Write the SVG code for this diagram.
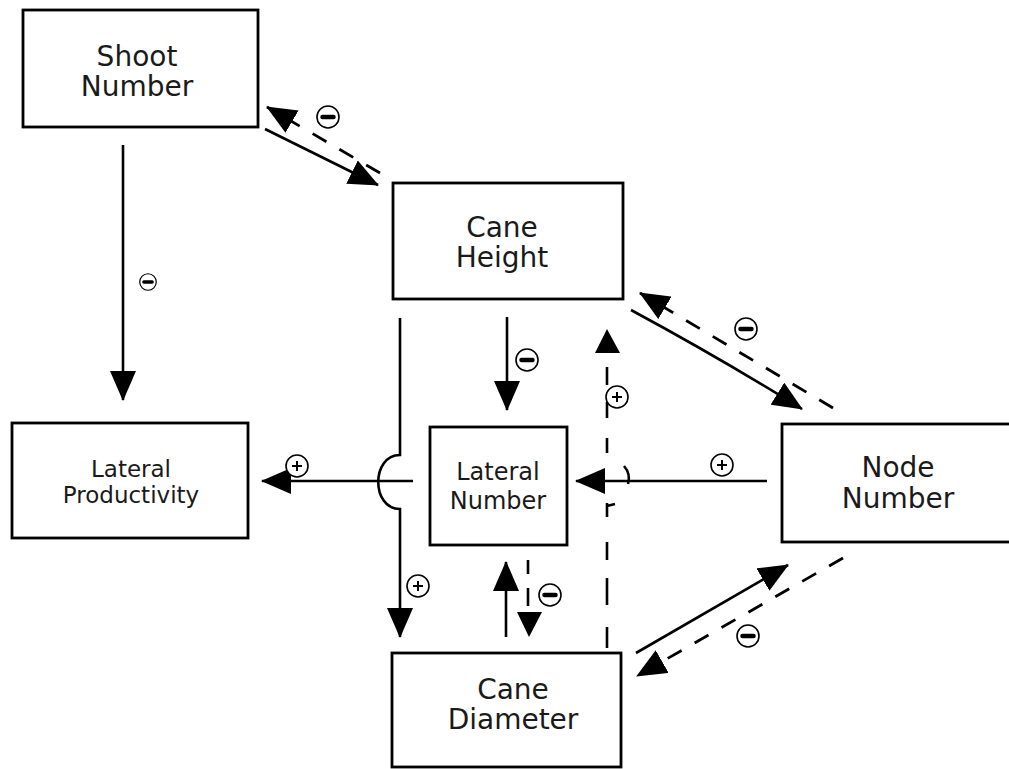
<svg xmlns="http://www.w3.org/2000/svg" width="1009" height="769" viewBox="0 0 1009 769">
<style>
.box{fill:#fff;stroke:#000;stroke-width:2.8}
.lbl{font-family:"DejaVu Sans","Liberation Sans",sans-serif;font-size:28px;fill:#1a1a1a;text-anchor:middle}
.lbm{font-family:"DejaVu Sans","Liberation Sans",sans-serif;font-size:24px;fill:#1a1a1a;text-anchor:middle}
.lbs{font-family:"DejaVu Sans","Liberation Sans",sans-serif;font-size:23px;fill:#1a1a1a;text-anchor:middle}
.ln{fill:none;stroke:#000;stroke-width:2.6}
.dash{fill:none;stroke:#000;stroke-width:2.8;stroke-dasharray:16 15}
.sg circle{fill:#fff;stroke:#000;stroke-width:1.6}
</style>
<defs>
<marker id="ah" markerUnits="userSpaceOnUse" markerWidth="30" markerHeight="26" viewBox="0 0 30 26" refX="29" refY="13" orient="auto">
<path d="M0,0 L30,13 L0,26 z" fill="#000"/>
</marker>
<g id="minus" class="sg"><circle r="11"/><line x1="-5.5" y1="0" x2="5.5" y2="0" stroke="#000" stroke-width="4.5" stroke-linecap="round"/></g>
<g id="plus" class="sg"><circle r="11"/><path d="M-5,0 H5 M0,-5 V5" stroke="#000" stroke-width="2"/></g>
</defs>
<rect width="1009" height="769" fill="#fff"/>

<g id="connectors">
<!-- Shoot Number -> Lateral Productivity -->
<path class="ln" d="M123,145 V400" marker-end="url(#ah)"/>
<use href="#minus" transform="translate(148 282) scale(0.75)"/>
<!-- Shoot Number -> Cane Height -->
<path class="ln" d="M265,129 L378,185" marker-end="url(#ah)"/>
<!-- Cane Height -> Shoot Number (dashed) -->
<path class="dash" d="M380,173 L267,107" marker-end="url(#ah)"/>
<use href="#minus" x="328" y="117"/>
<!-- Cane Height -> Lateral Number -->
<path class="ln" d="M507,317 V410" marker-end="url(#ah)"/>
<use href="#minus" x="527" y="360"/>
<!-- Cane Height -> Cane Diameter with hop -->
<path class="ln" d="M400,318 V455 C371,455 371,509 400,509 V637" marker-end="url(#ah)"/>
<use href="#plus" x="418" y="586"/>
<!-- Lateral Number -> Lateral Productivity -->
<path class="ln" d="M413,481 H262" marker-end="url(#ah)"/>
<use href="#plus" x="297" y="466"/>
<!-- Node Number -> Lateral Number -->
<path class="ln" d="M767,481 H576" marker-end="url(#ah)"/>
<path class="ln" d="M624,466 Q631,474 628,484" stroke-width="2"/>
<use href="#plus" x="722" y="465"/>
<!-- Cane Diameter -> Cane Height (dashed) -->
<path class="ln" stroke-width="3" d="M607,367 V385 M607,402 V418 M607,438 V453 M607,503 V517 M607,506 L615,504 M607,542 V560 M607,578 V605 M607,627 V648"/>
<path d="M595,353 L607,329 L620,353 z" fill="#000"/>
<use href="#plus" x="617" y="397"/>
<!-- Cane Diameter -> Lateral Number -->
<path class="ln" d="M506,637 V562" marker-end="url(#ah)"/>
<!-- Lateral Number -> Cane Diameter (dashed) -->
<path class="ln" stroke-width="3" d="M528,560 V574 M528,588 V606"/>
<path d="M517,612 L542,612 L529,637 z" fill="#000"/>
<use href="#minus" x="550" y="595"/>
<!-- Cane Height -> Node Number -->
<path class="ln" d="M631,310 Q720,358 802,409" marker-end="url(#ah)"/>
<!-- Node Number -> Cane Height (dashed) -->
<path class="dash" d="M833,408 L640,293" marker-end="url(#ah)"/>
<use href="#minus" x="746" y="329"/>
<!-- Cane Diameter -> Node Number -->
<path class="ln" d="M636,653 L788,565" marker-end="url(#ah)"/>
<!-- Node Number -> Cane Diameter (dashed) -->
<path class="dash" d="M843,558 L637,676" marker-end="url(#ah)"/>
<use href="#minus" x="748" y="636"/>
</g>

<g id="shoot-number">
<rect class="box" x="23" y="10" width="235" height="117"/>
<text class="lbl" x="137" y="66">Shoot</text>
<text class="lbl" x="137" y="96">Number</text>
</g>
<g id="cane-height">
<rect class="box" x="393" y="183" width="230" height="116"/>
<text class="lbl" x="502" y="237">Cane</text>
<text class="lbl" x="502" y="267">Height</text>
</g>
<g id="lateral-productivity">
<rect class="box" x="12" y="423" width="236" height="115"/>
<text class="lbs" x="131" y="477">Lateral</text>
<text class="lbs" x="131" y="503">Productivity</text>
</g>
<g id="lateral-number">
<rect class="box" x="430" y="427" width="137" height="118"/>
<text class="lbm" x="498" y="480">Lateral</text>
<text class="lbm" x="498" y="509">Number</text>
</g>
<g id="node-number">
<rect class="box" x="782" y="424" width="240" height="118"/>
<text class="lbl" x="898" y="477">Node</text>
<text class="lbl" x="898" y="508">Number</text>
</g>
<g id="cane-diameter">
<rect class="box" x="392" y="653" width="229" height="114"/>
<text class="lbl" x="513" y="699">Cane</text>
<text class="lbl" x="513" y="729">Diameter</text>
</g>
</svg>
